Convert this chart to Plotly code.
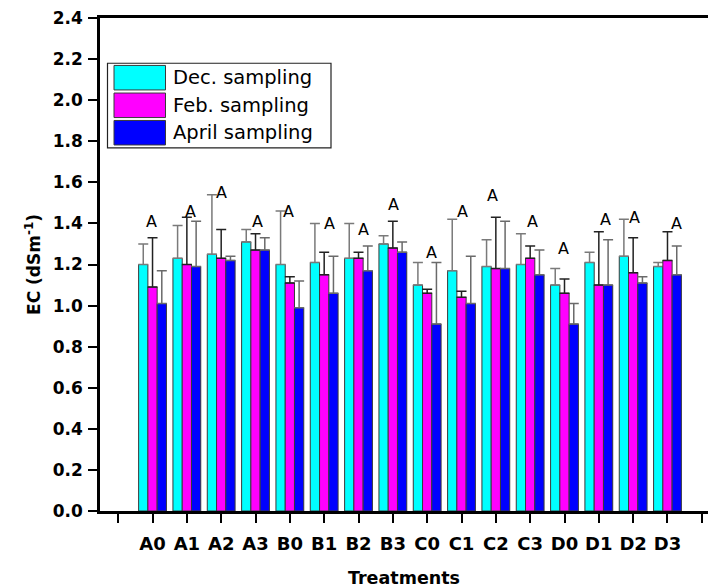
import plotly.graph_objects as go

treatments = ["A0", "A1", "A2", "A3", "B0", "B1", "B2", "B3",
              "C0", "C1", "C2", "C3", "D0", "D1", "D2", "D3"]
series_names = ["Dec. sampling", "Feb. sampling", "April sampling"]

dec_mean = [1.20, 1.23, 1.25, 1.31, 1.20, 1.21, 1.23, 1.30, 1.10, 1.17, 1.19, 1.20, 1.10, 1.21, 1.24, 1.19]
feb_mean = [1.09, 1.20, 1.23, 1.27, 1.11, 1.15, 1.23, 1.28, 1.06, 1.04, 1.18, 1.23, 1.06, 1.10, 1.16, 1.22]
apr_mean = [1.01, 1.19, 1.22, 1.27, 0.99, 1.06, 1.17, 1.26, 0.91, 1.01, 1.18, 1.15, 0.91, 1.10, 1.11, 1.15]

dec_top = [1.30, 1.39, 1.54, 1.37, 1.46, 1.40, 1.40, 1.34, 1.21, 1.42, 1.32, 1.35, 1.18, 1.26, 1.42, 1.21]
feb_top = [1.33, 1.43, 1.37, 1.35, 1.14, 1.26, 1.26, 1.41, 1.08, 1.07, 1.43, 1.29, 1.13, 1.36, 1.33, 1.36]
apr_top = [1.17, 1.41, 1.24, 1.33, 1.12, 1.24, 1.29, 1.31, 1.21, 1.24, 1.41, 1.27, 1.01, 1.32, 1.14, 1.29]

sig_letters = ["A"] * 16
sig_x = [0.97, 2.11, 3.01, 4.06, 4.97, 6.15, 7.14, 8.03, 9.13, 10.03, 10.89, 12.07, 12.96, 14.20, 15.03, 16.27]
sig_y = [1.41, 1.46, 1.55, 1.41, 1.46, 1.40, 1.37, 1.49, 1.26, 1.46, 1.535, 1.41, 1.28, 1.42, 1.43, 1.40]

y_ticks = [0.0, 0.2, 0.4, 0.6, 0.8, 1.0, 1.2, 1.4, 1.6, 1.8, 2.0, 2.2, 2.4]

colors = ["#00FFFF", "#FF00FF", "#0000FF"]
err_colors = ["#7a7a7a", "#222222", "#6a6a6a"]
FONT = "DejaVu Sans, Arial, sans-serif"

x_pos = list(range(1, len(treatments) + 1))
means = [dec_mean, feb_mean, apr_mean]
tops = [dec_top, feb_top, apr_top]

fig = go.Figure()
for name, m, t, c, ec in zip(series_names, means, tops, colors, err_colors):
    fig.add_trace(go.Bar(
        x=x_pos, y=m, name=name,
        marker=dict(color=c, line=dict(color="#3a3a3a", width=1)),
        error_y=dict(type="data", symmetric=False,
                     array=[round(tt - mm, 3) for tt, mm in zip(t, m)],
                     arrayminus=[0] * len(m),
                     color=ec, thickness=1.5, width=5),
        showlegend=False,
    ))

for xs, ys, s in zip(sig_x, sig_y, sig_letters):
    fig.add_annotation(x=xs, y=ys, text=s, showarrow=False,
                       font=dict(family=FONT, size=16, color="black"),
                       xanchor="center", yanchor="middle")

# custom legend (paper coordinates)
W, H = 608.0, 492.7
def px(x):
    return (x - 100) / W
def py(y):
    return (511 - y) / H

fig.add_shape(type="rect", xref="paper", yref="paper",
              x0=px(107.5), x1=px(331), y0=py(148), y1=py(63.5),
              line=dict(color="#222222", width=1.2), fillcolor="white")
sw_tops = [65.7, 93.3, 120.7]
for name, c, st in zip(series_names, colors, sw_tops):
    fig.add_shape(type="rect", xref="paper", yref="paper",
                  x0=px(114), x1=px(165.5), y0=py(st + 24.5), y1=py(st),
                  line=dict(color="#3a3a3a", width=1), fillcolor=c)
    fig.add_annotation(xref="paper", yref="paper", x=px(171), y=py(st + 12.5),
                       text=name, showarrow=False, xanchor="left", yanchor="middle",
                       font=dict(family=FONT, size=19.5, color="black"))

fig.update_layout(
    width=708, height=588,
    margin=dict(l=100, r=0, t=18, b=77),
    paper_bgcolor="white", plot_bgcolor="white",
    barmode="group", bargap=0.19, bargroupgap=0,
    font=dict(family=FONT, color="black"),
    xaxis=dict(
        range=[-0.53, 17.18],
        tickmode="array", tickvals=x_pos, ticktext=treatments,
        ticks="outside", ticklen=9, tickwidth=2, tickcolor="black",
        ticklabelstandoff=6,
        minor=dict(tickmode="linear", tick0=0, dtick=1, ticks="outside",
                   ticklen=9, tickwidth=2, tickcolor="black", showgrid=False),
        showline=True, linecolor="black", linewidth=2.5, mirror=True,
        showgrid=False, zeroline=False,
        tickfont=dict(family=FONT, size=18, color="black", weight="bold"),
        title=dict(text="<b>Treatments</b>", font=dict(family=FONT, size=17.5, color="black"), standoff=22),
    ),
    yaxis=dict(
        range=[0, 2.4],
        tickmode="array", tickvals=y_ticks,
        ticktext=[f"{v:.1f}" for v in y_ticks],
        ticks="outside", ticklen=9, tickwidth=2, tickcolor="black",
        ticklabelstandoff=2,
        showline=True, linecolor="black", linewidth=2.5,
        showgrid=False, zeroline=False,
        tickfont=dict(family=FONT, size=17, color="black", weight="bold"),
        title=dict(text="<b>EC (dSm<sup>-1</sup>)</b>", font=dict(family=FONT, size=17, color="black"), standoff=8),
    ),
)

fig.write_html("out.html")
